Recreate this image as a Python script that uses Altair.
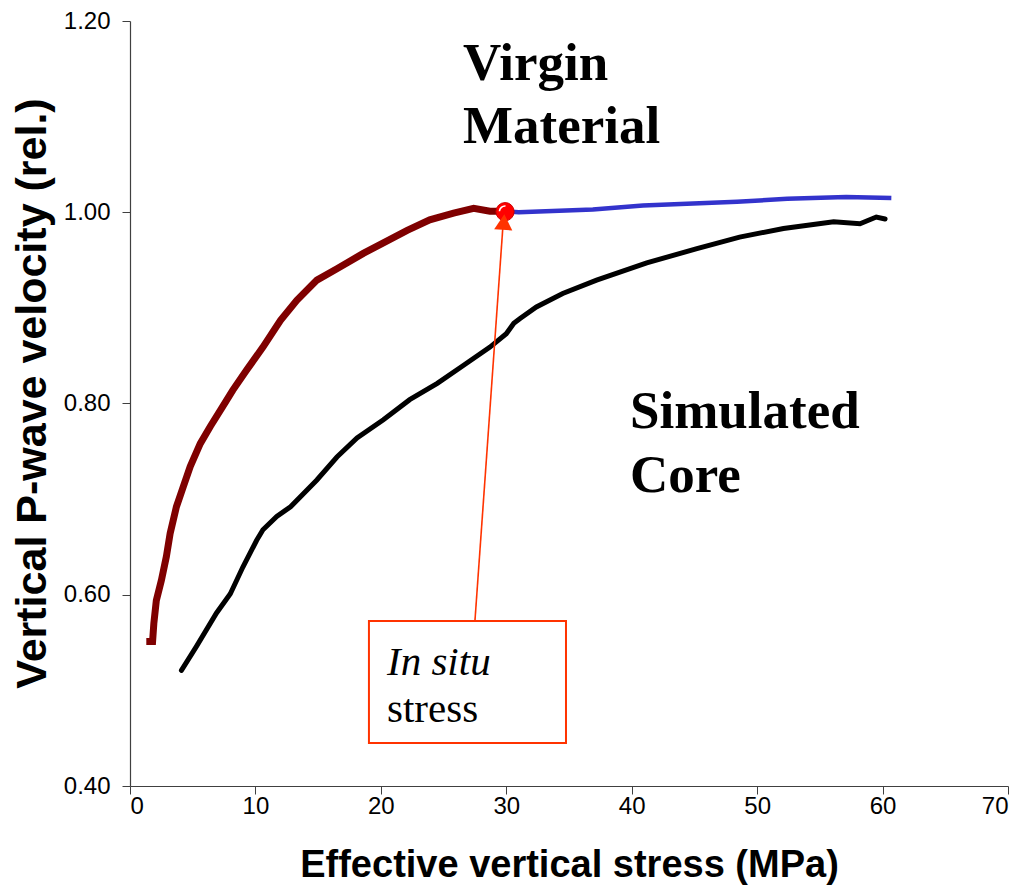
import altair as alt
import pandas as pd

# Virgin material (dark red) loading curve
virgin_x = [1.3, 1.8, 1.9, 2.1, 2.5, 2.9, 3.2, 3.7, 4.25, 4.8, 5.6, 6.4, 7.4, 8.2, 9.3, 10.6,
            12.0, 13.3, 14.9, 16.5, 18.6, 20.2, 22.1, 23.9, 25.8, 27.4, 28.7, 30.0]
virgin_y = [0.551, 0.551, 0.570, 0.594, 0.615, 0.640, 0.664, 0.692, 0.713, 0.734, 0.758, 0.776,
            0.797, 0.814, 0.835, 0.859, 0.887, 0.908, 0.929, 0.941, 0.957, 0.968, 0.981, 0.992,
            0.999, 1.004, 1.001, 1.001]

# Continuation beyond in situ stress (blue)
beyond_x = [30.0, 31.0, 36.9, 40.9, 44.4, 48.4, 52.4, 57.1, 60.7]
beyond_y = [1.001, 1.000, 1.003, 1.007, 1.009, 1.011, 1.014, 1.016, 1.015]

# Simulated core (black)
core_x = [4.1, 5.3, 6.9, 8.0, 9.0, 10.1, 10.6, 11.7, 12.8, 14.9, 16.5, 18.1, 20.2, 22.3, 24.5,
          26.6, 28.7, 30.0, 30.6, 31.1, 32.4, 34.5, 37.2, 41.2, 45.2, 48.6, 52.1, 56.1, 58.2,
          59.5, 60.2]
core_y = [0.521, 0.546, 0.581, 0.601, 0.629, 0.657, 0.668, 0.682, 0.692, 0.720, 0.744, 0.764,
          0.783, 0.804, 0.821, 0.840, 0.859, 0.873, 0.884, 0.889, 0.901, 0.915, 0.929, 0.947,
          0.962, 0.974, 0.983, 0.990, 0.988, 0.995, 0.993]

# In situ stress point
insitu_x = [29.9]
insitu_y = [1.0006]

# Annotation arrow (box top -> point)
arrow_x = [27.5, 29.73]
arrow_y = [0.5725, 0.985]
arrowhead_x = [29.8]
arrowhead_y = [0.9898]

# Annotation box
box_x1, box_x2 = [19.05], [34.76]
box_y1, box_y2 = [0.5725], [0.445]

# Labels
big_labels = ["Virgin", "Material", "Simulated", "Core"]
big_x = [26.55, 26.55, 39.86, 39.86]
big_y = [1.1383, 1.0724, 0.7744, 0.7075]

box_labels = ["In situ", "stress"]
box_lx = [20.49, 20.49]
box_ly = [0.5161, 0.4669]
box_style = ["italic", "normal"]

x_ticks = [0, 10, 20, 30, 40, 50, 60, 70]
y_ticks = [0.40, 0.60, 0.80, 1.00, 1.20]

xs = alt.Scale(domain=[0, 70], nice=False)
ys = alt.Scale(domain=[0.4, 1.2], nice=False)

X = lambda f: alt.X(f, type="quantitative", scale=xs,
                    axis=alt.Axis(values=x_ticks, title="Effective vertical stress (MPa)", format="d"))
Y = lambda f: alt.Y(f, type="quantitative", scale=ys,
                    axis=alt.Axis(values=y_ticks, title="Vertical P-wave velocity (rel.)", format=".2f",
                                  titleY=372))

df_v = pd.DataFrame({"x": virgin_x, "y": virgin_y, "o": range(len(virgin_x))})
df_b = pd.DataFrame({"x": beyond_x, "y": beyond_y, "o": range(len(beyond_x))})
df_c = pd.DataFrame({"x": core_x, "y": core_y, "o": range(len(core_x))})

line_v = alt.Chart(df_v).mark_line(color="#7F0000", strokeWidth=7, strokeCap="butt").encode(
    x=X("x"), y=Y("y"), order="o:Q")
line_b = alt.Chart(df_b).mark_line(color="#3333CC", strokeWidth=4.5).encode(
    x=X("x"), y=Y("y"), order="o:Q")
line_c = alt.Chart(df_c).mark_line(color="black", strokeWidth=5, strokeCap="round").encode(
    x=X("x"), y=Y("y"), order="o:Q")

df_box = pd.DataFrame({"x": box_x1, "x2": box_x2, "y": box_y1, "y2": box_y2})
box = alt.Chart(df_box).mark_rect(fill="white", stroke="#FF3300", strokeWidth=2).encode(
    x=X("x"), x2="x2", y=Y("y"), y2="y2")

df_arrow = pd.DataFrame({"x": arrow_x, "y": arrow_y})
arrow = alt.Chart(df_arrow).mark_line(color="#FF3300", strokeWidth=1.6).encode(x=X("x"), y=Y("y"))

df_pt = pd.DataFrame({"x": insitu_x, "y": insitu_y})
dot = alt.Chart(df_pt).mark_point(shape="circle", filled=True, color="#FF0000", size=330,
                                  opacity=1, stroke="#CC0000", strokeWidth=1).encode(x=X("x"), y=Y("y"))
shine = alt.Chart(df_pt).mark_point(
    shape="M -0.62 -0.05 A 0.62 0.62 0 0 1 0.05 -0.62", filled=False, color="white",
    size=330, strokeWidth=1.6, opacity=1).encode(x=X("x"), y=Y("y"))

df_ah = pd.DataFrame({"x": arrowhead_x, "y": arrowhead_y})
head = alt.Chart(df_ah).mark_point(shape="triangle-up", filled=True, color="#FF3300", size=330,
                                   opacity=1, angle=4).encode(x=X("x"), y=Y("y"))

df_big = pd.DataFrame({"t": big_labels, "x": big_x, "y": big_y})
big = alt.Chart(df_big).mark_text(font="Liberation Serif", fontWeight="bold", fontSize=53,
                                  align="left", baseline="alphabetic", color="black").encode(
    x=X("x"), y=Y("y"), text="t:N")

df_bl = pd.DataFrame({"t": box_labels, "x": box_lx, "y": box_ly, "s": box_style})
bl_it = alt.Chart(df_bl[df_bl.s == "italic"]).mark_text(font="Liberation Serif", fontStyle="italic",
                                                         fontSize=41, align="left", baseline="alphabetic",
                                                         color="black").encode(x=X("x"), y=Y("y"), text="t:N")
bl_n = alt.Chart(df_bl[df_bl.s == "normal"]).mark_text(font="Liberation Serif", fontSize=41,
                                                        align="left", baseline="alphabetic",
                                                        color="black").encode(x=X("x"), y=Y("y"), text="t:N")

chart = alt.layer(line_c, line_v, line_b, box, arrow, dot, shine, head, big, bl_it, bl_n).properties(
    width=878, height=765,
    autosize=alt.AutoSizeParams(type="none"),
    padding={"left": 130, "top": 21, "right": 18, "bottom": 105},
    background="white",
).configure_view(stroke=None).configure_axis(
    grid=False, domainColor="#404040", domainWidth=1.2, tickColor="#404040", tickSize=8,
    labelFont="Liberation Sans", labelFontSize=24, labelColor="black",
    titleFont="Liberation Sans", titleFontWeight="bold", titleColor="black",
).configure_axisX(titleFontSize=38, labelPadding=0, titlePadding=28
).configure_axisY(titleFontSize=43, labelPadding=12, titlePadding=9)

chart.save("out.html", embed_options={"renderer": "svg", "actions": False})
